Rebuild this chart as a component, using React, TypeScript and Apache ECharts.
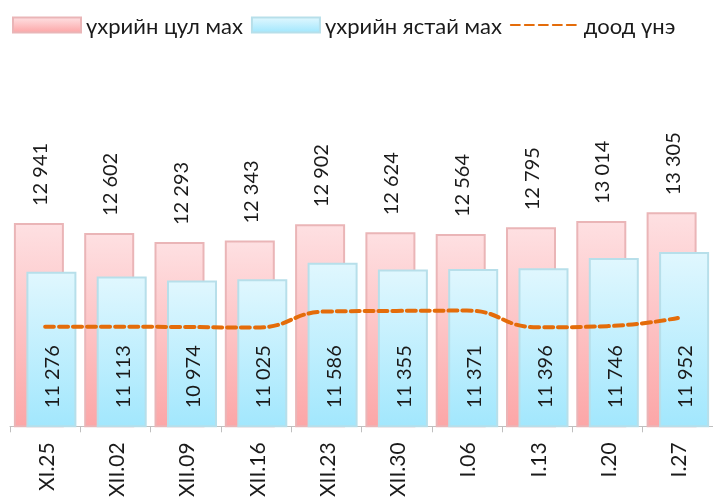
import React, { useEffect, useRef } from "react";
import * as echarts from "echarts";

const categories = ["XI.25", "XII.02", "XII.09", "XII.16", "XII.23", "XII.30", "I.06", "I.13", "I.20", "I.27"];
const boneless = [12941, 12602, 12293, 12343, 12902, 12624, 12564, 12795, 13014, 13305];
const boneIn = [11276, 11113, 10974, 11025, 11586, 11355, 11371, 11396, 11746, 11952];
const lowPrice = [9400, 9400, 9390, 9370, 9920, 9940, 9950, 9380, 9420, 9700];
const seriesNames = ["үхрийн цул мах", "үхрийн ястай мах", "доод үнэ"];

const fmt = (v: number) => {
  const s = String(Math.round(v));
  return s.replace(/\B(?=(\d{3})+(?!\d))/g, " ");
};

const FONT = "Lato, 'Open Sans', sans-serif";

export default function App() {
  const ref = useRef<HTMLDivElement>(null);
  useEffect(() => {
    if (!ref.current) return;
    const chart = echarts.init(ref.current, null, { renderer: "svg" });
    const pinkGrad = new echarts.graphic.LinearGradient(0, 0, 0, 1, [
      { offset: 0, color: "#FEE0E2" },
      { offset: 1, color: "#FCA6A7" },
    ]);
    const blueGrad = new echarts.graphic.LinearGradient(0, 0, 0, 1, [
      { offset: 0, color: "#E0F7FE" },
      { offset: 1, color: "#A2E7FD" },
    ]);
    chart.setOption({
      animation: false,
      textStyle: { fontFamily: FONT },
      legend: {
        left: 12,
        top: 14,
        padding: 0,
        itemWidth: 68,
        itemHeight: 15,
        itemGap: 8,
        textStyle: { fontSize: 22, color: "#1a1a1a", fontFamily: FONT },
        data: [
          { name: seriesNames[0], icon: "rect" },
          { name: seriesNames[1], icon: "rect" },
          { name: seriesNames[2], itemStyle: { opacity: 0 } },
        ],
      },
      grid: { left: 10, right: 0, top: 192, height: 240, containLabel: false },
      xAxis: {
        type: "category",
        data: categories,
        axisLine: { lineStyle: { color: "#BFBFBF", width: 1 } },
        axisTick: { show: true, length: 6, lineStyle: { color: "#BFBFBF" } },
        axisLabel: {
          rotate: 90,
          margin: 16,
          fontSize: 21,
          color: "#1a1a1a",
          fontFamily: FONT,
          interval: 0,
        },
      },
      yAxis: {
        type: "value",
        min: 6000,
        max: 14000,
        show: false,
        splitLine: { show: false },
      },
      series: [
        {
          name: seriesNames[0],
          type: "bar",
          data: boneless,
          barWidth: 50,
          barGap: "-75%",
          itemStyle: { color: pinkGrad, borderColor: "#EAB5B7", borderWidth: 2 },
          label: {
            show: true,
            position: "top",
            distance: 17,
            rotate: 90,
            align: "left",
            verticalAlign: "middle",
            fontSize: 20,
            color: "#1a1a1a",
            fontFamily: FONT,
            formatter: (p: any) => fmt(p.value),
          },
        },
        {
          name: seriesNames[1],
          type: "bar",
          data: boneIn,
          barWidth: 50,
          itemStyle: { color: blueGrad, borderColor: "#B7DFEA", borderWidth: 2 },
          label: {
            show: true,
            position: "insideBottom",
            distance: 19,
            rotate: 90,
            align: "left",
            verticalAlign: "middle",
            fontSize: 20,
            color: "#1a1a1a",
            fontFamily: FONT,
            formatter: (p: any) => fmt(p.value),
          },
        },
        {
          name: seriesNames[2],
          type: "line",
          data: lowPrice,
          smooth: true,
          symbol: "none",
          z: 5,
          itemStyle: { color: "#E46C0A" },
          lineStyle: { color: "#E46C0A", width: 4, type: [9, 5], cap: "round" },
        },
      ],
    });
    return () => chart.dispose();
  }, []);
  return <div ref={ref} style={{ position: "fixed", left: 0, top: 0, width: 713, height: 500 }} />;
}
